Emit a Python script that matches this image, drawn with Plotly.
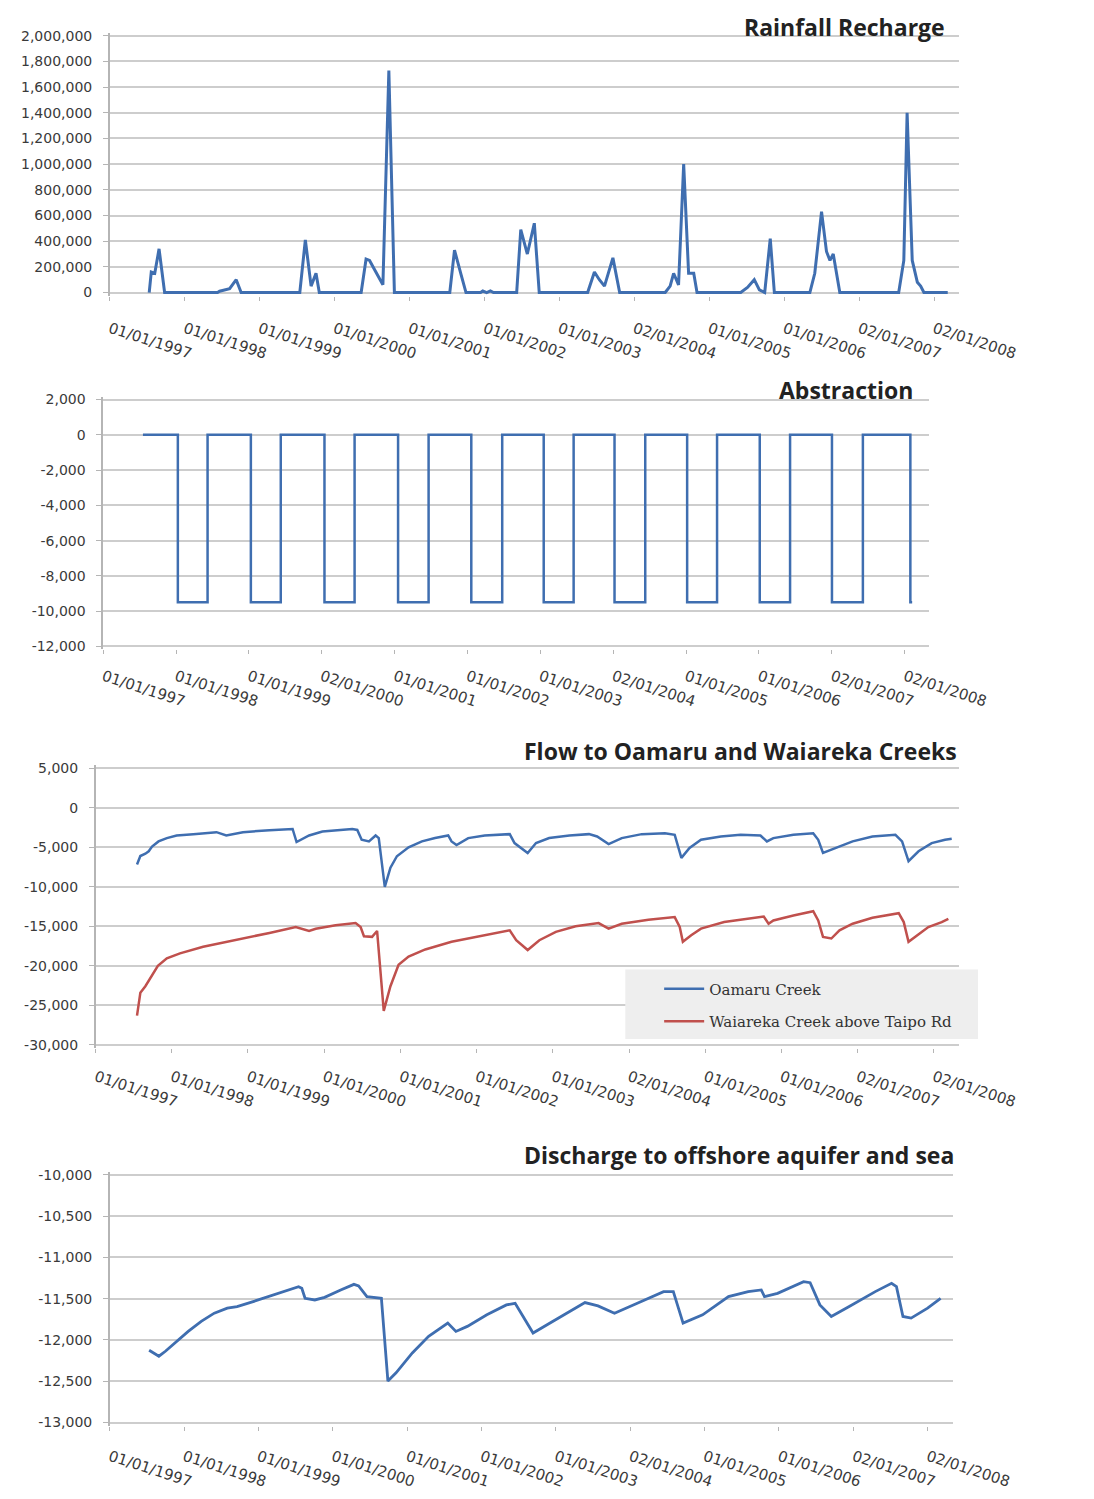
import plotly.graph_objects as go

# ---------------- data ----------------
tick_dates = ['1997-01-01', '1998-01-01', '1999-01-01', '2000-01-01', '2001-01-01', '2002-01-01',
              '2003-01-01', '2004-01-02', '2005-01-01', '2006-01-01', '2007-01-02', '2008-01-02']
tick_text = ['01/01/1997', '01/01/1998', '01/01/1999', '01/01/2000', '01/01/2001', '01/01/2002',
             '01/01/2003', '02/01/2004', '01/01/2005', '01/01/2006', '02/01/2007', '02/01/2008']
tick_text_abs = ['01/01/1997', '01/01/1998', '01/01/1999', '02/01/2000', '01/01/2001', '01/01/2002',
                 '01/01/2003', '02/01/2004', '01/01/2005', '01/01/2006', '02/01/2007', '02/01/2008']

# Rainfall recharge
rech_dates = ['1997-07-12', '1997-07-22', '1997-08-08', '1997-08-29', '1997-09-25',
              '1998-06-10', '1998-06-20', '1998-08-08', '1998-09-09', '1998-10-03',
              '1999-07-16', '1999-08-12', '1999-09-09', '1999-10-03', '1999-10-19',
              '2000-05-10', '2000-06-03', '2000-06-20', '2000-07-14', '2000-08-08', '2000-08-24', '2000-09-22', '2000-10-19',
              '2001-07-16', '2001-08-08', '2001-09-09', '2001-10-03',
              '2001-12-13', '2001-12-24', '2002-01-12', '2002-01-30', '2002-02-14',
              '2002-06-07', '2002-06-27', '2002-07-29', '2002-09-01', '2002-09-25',
              '2003-05-19', '2003-06-21', '2003-07-15', '2003-08-09', '2003-09-19', '2003-10-22',
              '2004-05-31', '2004-06-24', '2004-07-11', '2004-08-04', '2004-08-29', '2004-09-22', '2004-10-17', '2004-11-02',
              '2005-06-03', '2005-07-06', '2005-08-08', '2005-09-02', '2005-09-28', '2005-10-25', '2005-11-14',
              '2006-05-06', '2006-05-30', '2006-06-15', '2006-07-02', '2006-07-26', '2006-08-12', '2006-08-28', '2006-09-13', '2006-09-29',
              '2007-07-13', '2007-08-07', '2007-08-23', '2007-09-17', '2007-10-12', '2007-10-28', '2007-11-13',
              '2008-03-08']
rech_vals = [0, 160000, 150000, 340000, 0,
             0, 10000, 30000, 100000, 0,
             0, 410000, 50000, 150000, 0,
             0, 260000, 250000, 180000, 100000, 60000, 1730000, 0,
             0, 330000, 140000, 0,
             0, 12000, 0, 12000, 0,
             0, 490000, 300000, 540000, 0,
             0, 160000, 100000, 50000, 270000, 0,
             0, 50000, 150000, 60000, 1000000, 150000, 150000, 0,
             0, 40000, 100000, 20000, 0, 420000, 0,
             0, 150000, 400000, 630000, 320000, 250000, 300000, 150000, 0,
             0, 250000, 1400000, 250000, 80000, 50000, 0,
             0]

# Abstraction (step series)
abs_dates = ['1997-07-19',
             '1998-01-10', '1998-06-08', '1999-01-11', '1999-06-10', '2000-01-15', '2000-06-14',
             '2001-01-18', '2001-06-20', '2002-01-20', '2002-06-24', '2003-01-18', '2003-06-17',
             '2004-01-08', '2004-06-10', '2005-01-06', '2005-06-05', '2006-01-05', '2006-06-06',
             '2007-01-02', '2007-06-06', '2008-01-30', '2008-02-08']
abs_vals = [0,
            -9500, 0, -9500, 0, -9500, 0,
            -9500, 0, -9500, 0, -9500, 0,
            -9500, 0, -9500, 0, -9500, 0,
            -9500, 0, -9500, -9500]

# Flow to Oamaru Creek
oam_dates = ['1997-07-18', '1997-08-03', '1997-08-27', '1997-09-12', '1997-09-28', '1997-10-29', '1997-12-08',
             '1998-01-24', '1998-04-14', '1998-08-03', '1998-09-19', '1998-12-08', '1999-04-14', '1999-08-03',
             '1999-08-22', '1999-10-21', '1999-12-24', '2000-05-15', '2000-06-08', '2000-06-29', '2000-08-03',
             '2000-09-04', '2000-09-19', '2000-10-18', '2000-11-14', '2000-12-15', '2001-02-09', '2001-04-14',
             '2001-06-16', '2001-08-18', '2001-09-03', '2001-09-27', '2001-11-22', '2002-02-09', '2002-06-09',
             '2002-07-02', '2002-09-03', '2002-10-13', '2002-12-15', '2003-03-22', '2003-06-24', '2003-08-02',
             '2003-09-26', '2003-11-28', '2004-03-03', '2004-06-22', '2004-08-08', '2004-09-09', '2004-10-18',
             '2004-12-12', '2005-03-17', '2005-06-20', '2005-09-23', '2005-10-24', '2005-11-24', '2006-02-28',
             '2006-06-03', '2006-06-27', '2006-07-20', '2006-09-21', '2006-12-09', '2007-03-14', '2007-07-02',
             '2007-08-03', '2007-09-03', '2007-10-21', '2007-12-23', '2008-02-25', '2008-03-28']
oam_vals = [-7170, -6100, -5800, -5500, -4900, -4250, -3830,
            -3500, -3330, -3080, -3500, -3080, -2830, -2670,
            -4330, -3500, -3000, -2670, -2800, -4040, -4250,
            -3500, -3830, -10000, -7580, -6125, -5000, -4250,
            -3830, -3500, -4250, -4700, -3830, -3500, -3330,
            -4460, -5710, -4460, -3830, -3500, -3330, -3625,
            -4580, -3830, -3330, -3210, -3420, -6330, -5080,
            -4040, -3625, -3420, -3500, -4250, -3830, -3420,
            -3210, -4040, -5710, -5080, -4250, -3625, -3420,
            -4250, -6750, -5500, -4460, -4040, -3920]

# Flow to Waiareka Creek above Taipo Rd
wai_dates = ['1997-07-18', '1997-08-03', '1997-08-27', '1997-09-20', '1997-10-26', '1997-12-08', '1998-02-09',
             '1998-05-31', '1998-11-06', '1999-04-14', '1999-08-18', '1999-09-19', '1999-10-21', '1999-11-22',
             '2000-02-25', '2000-05-31', '2000-06-24', '2000-07-10', '2000-08-18', '2000-09-11', '2000-10-13',
             '2000-11-14', '2000-12-23', '2001-02-09', '2001-04-30', '2001-09-03', '2002-02-09', '2002-06-09',
             '2002-07-10', '2002-09-03', '2002-10-29', '2003-01-16', '2003-04-21', '2003-08-09', '2003-09-26',
             '2003-11-28', '2004-04-04', '2004-08-08', '2004-09-01', '2004-09-16', '2004-10-26', '2004-12-12',
             '2005-04-02', '2005-08-22', '2005-10-09', '2005-11-01', '2005-11-24', '2006-02-28', '2006-06-03',
             '2006-06-27', '2006-07-20', '2006-08-29', '2006-09-13', '2006-10-07', '2006-12-09', '2007-03-14',
             '2007-07-18', '2007-08-11', '2007-09-03', '2007-10-13', '2007-12-07', '2008-02-09', '2008-03-12']
wai_vals = [-26300, -23400, -22580, -21540, -20000, -19040, -18420,
            -17580, -16750, -15830, -15080, -15300, -15580, -15300,
            -14870, -14580, -15080, -16250, -16330, -15580, -25700,
            -22580, -19870, -18830, -17920, -16960, -16120, -15500,
            -16750, -18000, -16750, -15700, -15000, -14580, -15290,
            -14670, -14170, -13830, -15080, -16960, -16120, -15290,
            -14460, -13920, -13750, -14670, -14250, -13620, -13080,
            -14250, -16330, -16540, -16120, -15500, -14670, -13920,
            -13330, -14460, -16960, -16120, -15080, -14460, -14040]

# Discharge to offshore aquifer and sea
dis_dates = ['1997-07-13', '1997-08-30', '1997-10-01', '1997-11-18', '1998-01-21', '1998-03-26', '1998-05-29',
             '1998-08-01', '1998-09-18', '1998-12-06', '1999-03-11', '1999-05-30', '1999-07-17', '1999-08-02',
             '1999-08-18', '1999-10-05', '1999-11-22', '2000-02-09', '2000-04-14', '2000-05-07', '2000-06-17',
             '2000-08-27', '2000-09-28', '2000-11-07', '2001-01-26', '2001-04-16', '2001-07-19', '2001-08-28',
             '2001-10-23', '2002-01-27', '2002-05-03', '2002-06-15', '2002-09-11', '2002-12-16', '2003-03-20',
             '2003-05-24', '2003-07-27', '2003-10-16', '2004-02-05', '2004-06-13', '2004-07-31', '2004-09-17',
             '2004-12-22', '2005-04-28', '2005-08-03', '2005-10-06', '2005-10-22', '2005-12-25', '2006-05-02',
             '2006-06-03', '2006-07-21', '2006-09-15', '2006-12-12', '2007-04-19', '2007-07-08', '2007-08-01',
             '2007-09-02', '2007-10-12', '2008-01-01', '2008-03-05']
dis_vals = [-12125, -12197, -12137, -12037, -11897, -11776, -11676,
            -11616, -11596, -11536, -11456, -11395, -11355, -11375,
            -11496, -11516, -11484, -11395, -11327, -11347, -11476,
            -11496, -12498, -12398, -12157, -11957, -11796, -11897,
            -11836, -11696, -11576, -11556, -11917, -11776, -11636,
            -11548, -11588, -11676, -11556, -11415, -11415, -11797,
            -11696, -11476, -11415, -11395, -11476, -11436, -11295,
            -11307, -11576, -11716, -11596, -11415, -11315, -11355,
            -11716, -11736, -11616, -11496]

# y-axis ticks
y1_ticks = [0, 200000, 400000, 600000, 800000, 1000000, 1200000, 1400000, 1600000, 1800000, 2000000]
y1_text = ['0', '200,000', '400,000', '600,000', '800,000', '1,000,000', '1,200,000', '1,400,000',
           '1,600,000', '1,800,000', '2,000,000']
y2_ticks = [2000, 0, -2000, -4000, -6000, -8000, -10000, -12000]
y2_text = ['2,000', '0', '-2,000', '-4,000', '-6,000', '-8,000', '-10,000', '-12,000']
y3_ticks = [5000, 0, -5000, -10000, -15000, -20000, -25000, -30000]
y3_text = ['5,000', '0', '-5,000', '-10,000', '-15,000', '-20,000', '-25,000', '-30,000']
y4_ticks = [-10000, -10500, -11000, -11500, -12000, -12500, -13000]
y4_text = ['-10,000', '-10,500', '-11,000', '-11,500', '-12,000', '-12,500', '-13,000']

titles = ['Rainfall Recharge', 'Abstraction', 'Flow to Oamaru and Waiareka Creeks',
          'Discharge to offshore aquifer and sea']
legend_names = ['Oamaru Creek', 'Waiareka Creek above Taipo Rd']

# ---------------- layout helpers ----------------
OFF = 8                       # page body margin
W, H = 1094 - 2 * OFF, 1499 - 2 * OFF
X_RANGE = ['1997-01-01', '2008-05-03']
BLUE = '#3f6eb0'
RED = '#c0504d'
GRID = '#cdcdcd'
AXIS = '#b5b5b5'
YTICKFONT = dict(family='DejaVu Sans', size=14, color='#3a3a3a')
XTICKFONT = dict(family='DejaVu Sans', size=15, color='#3a3a3a')


def px_x(p):
    return (p - OFF) / W


def px_y(p):
    return 1 - (p - OFF) / H


def ydom(px_top, px_bot, v_top, v_bot, pad=3):
    per_px = (v_top - v_bot) / (px_bot - px_top)
    rng = [v_bot - pad * per_px, v_top + pad * per_px]
    dom = [px_y(px_bot + pad), px_y(px_top - pad)]
    return dom, rng


panels = [
    # x_left, x_right, y_top_px, y_bot_px, v_top, v_bot, ticks, text, xtext, title_right, title_y, standoff
    (112, 1015, 31, 290, 2000000, 0, y1_ticks, y1_text, tick_text, 1002, 22, 14),
    (105, 983, 398, 647, 2000, -12000, y2_ticks, y2_text, tick_text_abs, 968, 388, 8),
    (97, 1015, 770, 1049, 5000, -30000, y3_ticks, y3_text, tick_text, 1015, 753, 10),
    (112, 1008, 1180, 1430, -10000, -13000, y4_ticks, y4_text, tick_text, 1012, 1160, 12),
]

fig = go.Figure()

fig.add_trace(go.Scatter(x=rech_dates, y=rech_vals, mode='lines', line=dict(color=BLUE, width=3),
                         showlegend=False, xaxis='x', yaxis='y'))
fig.add_trace(go.Scatter(x=abs_dates, y=abs_vals, mode='lines', line=dict(color=BLUE, width=2.5, shape='hv'),
                         showlegend=False, xaxis='x2', yaxis='y2'))
fig.add_trace(go.Scatter(x=oam_dates, y=oam_vals, mode='lines', line=dict(color=BLUE, width=2.5),
                         name=legend_names[0], legendgroup='a', xaxis='x3', yaxis='y3'))
fig.add_trace(go.Scatter(x=wai_dates, y=wai_vals, mode='lines', line=dict(color=RED, width=2.5),
                         name=legend_names[1], legendgroup='b', xaxis='x3', yaxis='y3'))
fig.add_trace(go.Scatter(x=dis_dates, y=dis_vals, mode='lines', line=dict(color=BLUE, width=2.8),
                         showlegend=False, xaxis='x4', yaxis='y4'))

layout = dict(width=W, height=H, margin=dict(l=0, r=0, t=0, b=0),
              paper_bgcolor='white', plot_bgcolor='white')
annotations = []
for i, (xl, xr, yt, yb, vt, vb, tv, tt, xt, tr, ty, so) in enumerate(panels):
    n = '' if i == 0 else str(i + 1)
    dom, rng = ydom(yt, yb, vt, vb)
    layout['xaxis' + n] = dict(domain=[px_x(xl), px_x(xr)], range=X_RANGE, type='date', anchor='y' + n,
                               tickvals=tick_dates, ticktext=xt, tickangle=18, tickfont=XTICKFONT,
                               showgrid=False, zeroline=False, showline=False,
                               ticks='outside', ticklen=4, tickcolor=AXIS, ticklabelstandoff=so)
    layout['yaxis' + n] = dict(domain=dom, range=rng, anchor='x' + n, tickvals=tv, ticktext=tt,
                               tickfont=YTICKFONT, showgrid=True, gridcolor=GRID, gridwidth=1.8,
                               zeroline=False, showline=True, linecolor=AXIS, linewidth=1.5,
                               ticks='outside', ticklen=5, tickcolor=AXIS, ticklabelstandoff=8)
    annotations.append(dict(text=titles[i], xref='paper', yref='paper', x=px_x(tr), y=px_y(ty),
                            xanchor='right', yanchor='middle', showarrow=False,
                            font=dict(family='Open Sans', size=23, color='#222222', weight='bold')))

layout['annotations'] = annotations
layout['shapes'] = [dict(type='rect', xref='paper', yref='paper', x0=px_x(660), x1=px_x(1035),
                         y0=px_y(1043), y1=px_y(973), fillcolor='#eeeeee', line=dict(width=0),
                         layer='above')]
layout['legend'] = dict(x=px_x(696), y=px_y(976), xanchor='left', yanchor='top',
                        bgcolor='rgba(0,0,0,0)', tracegroupgap=10, itemwidth=40,
                        font=dict(family='DejaVu Serif', size=15, color='#333333'))
fig.update_layout(**layout)

fig.write_html('out.html')
